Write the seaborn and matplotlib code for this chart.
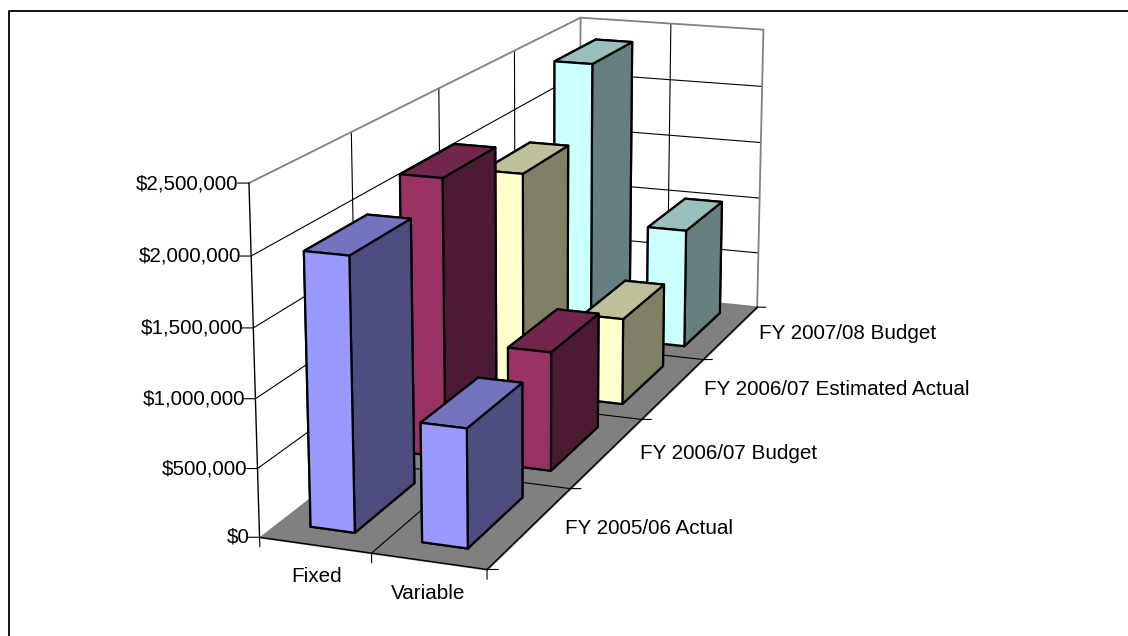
import seaborn as sns
import matplotlib.pyplot as plt
from mpl_toolkits.mplot3d import proj3d
from mpl_toolkits.mplot3d.art3d import Poly3DCollection

sns.set_theme(style="white")
plt.rcParams['font.family'] = ['Liberation Sans', 'DejaVu Sans']

categories = ["Fixed", "Variable"]
series = ["FY 2005/06 Actual", "FY 2006/07 Budget", "FY 2006/07 Estimated Actual", "FY 2007/08 Budget"]
fixed_values = [1980000, 2140000, 1800000, 2370000]
variable_values = [860000, 910000, 700000, 1010000]
z_ticks = [0, 500000, 1000000, 1500000, 2000000, 2500000]
z_labels = ["$0", "$500,000", "$1,000,000", "$1,500,000", "$2,000,000", "$2,500,000"]

front_colors = ["#9999FF", "#993366", "#FFFFCC", "#CCFFFF"]
top_colors = ["#7373BF", "#73264D", "#BFBF99", "#99BFBF"]
side_colors = ["#4D4D80", "#4D1A33", "#808066", "#668080"]

W, H = 1128, 636
fig = plt.figure(figsize=(W / 100, H / 100), dpi=100)
ax = fig.add_axes([0, 0, 1, 1], projection="3d")
zmax = z_ticks[-1]
nx, ny = len(categories), len(series)
ax.set_xlim(0, nx, view_margin=0)
ax.set_ylim(0, ny, view_margin=0)
ax.set_zlim(0, zmax, view_margin=0)
ax.set_xticks([])
ax.set_yticks([])
ax.set_zticks([])
ax.view_init(elev=15.3047, azim=-69.6562)
ax.set_proj_type("persp", focal_length=0.5412)
ax.set_box_aspect((0.6703, 2.6248, 1))
ax.set_axis_off()
ax.computed_zorder = False

# camera fit gave scale 4889.17 and offset (540.44, 381.72) in pixels
s = 4889.17
xl, yl = ax.viewLim.intervalx, ax.viewLim.intervaly
L = s * (xl[1] - xl[0])
ax.set_position([(540.44 + s * xl[0]) / W, (381.72 + s * yl[0]) / H, L / W, L / H])

floor = Poly3DCollection([[(0, 0, 0), (nx, 0, 0), (nx, ny, 0), (0, ny, 0)]], facecolor="#808080", edgecolor="#808080")
ax.add_collection3d(floor)
floor.set_zorder(1)

wall_c = "#808080"
# walls outline
ax.plot([0, 0, nx, nx], [0, ny, ny, ny], [zmax, zmax, zmax, 0], color=wall_c, lw=1.3, zorder=3)
ax.plot([0, 0], [ny, ny], [0, zmax], color=wall_c, lw=1.3, zorder=3)
ax.plot([0, nx], [ny, ny], [0, 0], color=wall_c, lw=1.3, zorder=3)
# gridlines on the walls
for z in z_ticks[1:-1]:
    ax.plot([0, 0, nx], [0, ny, ny], [z, z, z], color="black", lw=0.8, zorder=2)
for y in range(1, ny):
    ax.plot([0, 0], [y, y], [0, zmax], color="black", lw=0.8, zorder=2)
    ax.plot([0, nx], [y, y], [0, 0], color="black", lw=0.8, zorder=2)
ax.plot([1, 1], [ny, ny], [0, zmax], color="black", lw=0.8, zorder=2)
ax.plot([1, 1], [0, ny], [0, 0], color="black", lw=0.8, zorder=2)
# axis lines and tick marks
ax.plot([0, 0], [0, 0], [0, zmax], color="black", lw=1.0, zorder=3)
ax.plot([0, nx, nx], [0, 0, ny], [0, 0, 0], color="black", lw=1.0, zorder=3)
for z in z_ticks:
    ax.plot([-0.085, 0], [-0.016, 0], [z, z], color="black", lw=0.8, zorder=3)
for x in range(nx + 1):
    ax.plot([x, x], [0, 0], [0, -70000], color="black", lw=0.8, zorder=3)
for y in range(ny + 1):
    ax.plot([nx, nx + 0.085], [y, y + 0.016], [0, 0], color="black", lw=0.8, zorder=3)

bar_w, bar_d = 0.40, 0.64
order = 10
for i in reversed(range(ny)):
    for j, vals in enumerate((fixed_values, variable_values)):
        # bar3d faces: bottom, top, front, back, left, right
        faces = [side_colors[i], top_colors[i], front_colors[i], side_colors[i], side_colors[i], side_colors[i]]
        c = ax.bar3d(j + 0.49 - bar_w / 2, i + 0.505 - bar_d / 2, 0, bar_w, bar_d, vals[i], color=faces, shade=False,
                     edgecolor="black", linewidth=1.6)
        c.set_zorder(order)
        order += 1


def label(x, y, z, text, ha):
    # plain 2D text placed at the projected 3D spot
    px, py, _ = proj3d.proj_transform(x, y, z, ax.get_proj())
    ax.text2D(px, py, text, transform=ax.transData, ha=ha, va="center", fontsize=14.9, color="black", zorder=40)


for z, lab in zip(z_ticks, z_labels):
    label(-0.09, 0, z - 10000, lab, "right")
for j, lab in enumerate(categories):
    label(j * 0.95 + 0.80, -0.31, 0, lab, "center")
for i, lab in enumerate(series):
    label(nx + 0.28, i + 0.54, 0, lab, "left")

# chart frame, only top and left edges show
fig.add_artist(plt.Line2D([8.5 / W, 8.5 / W, 1], [0, 1 - 10.5 / H, 1 - 10.5 / H], color="black", lw=1.3))
fig.savefig("out.png", dpi=100)
